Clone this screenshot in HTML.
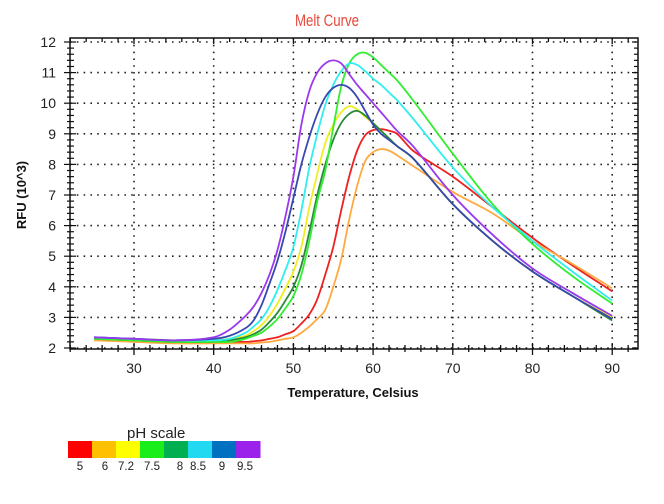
<!DOCTYPE html>
<html><head><meta charset="utf-8"><style>
body{margin:0;background:#fff;width:664px;height:504px;overflow:hidden}
svg{display:block}
text{font-family:"Liberation Sans",sans-serif}
</style></head><body>
<svg width="664" height="504">
<g id="chart"></g>
</svg>
<script>
const temps=[25,30,35,40,42,44,45,46,47,48,49,50,51,52,53,54,55,56,57,58,59,60,61,62,63,65,70,75,80,85,90];
const phLabels=["5","6","7.2","7.5","8","8.5","9","9.5"];
const xTicks=[30,40,50,60,70,80,90];
const yTicks=[2,3,4,5,6,7,8,9,10,11,12];
const sRed=[2.3,2.25,2.2,2.2,2.2,2.2,2.22,2.25,2.3,2.35,2.45,2.55,2.8,3.1,3.6,4.4,5.3,6.5,7.6,8.45,8.95,9.12,9.15,9.1,9.0,8.45,7.6,6.6,5.6,4.7,3.85];
const sOrange=[2.25,2.2,2.15,2.15,2.15,2.15,2.15,2.18,2.2,2.25,2.3,2.35,2.5,2.7,2.95,3.25,4.0,4.9,6.2,7.3,8.1,8.4,8.5,8.45,8.3,7.95,7.1,6.4,5.5,4.75,3.95];
const sYellow=[2.3,2.3,2.25,2.25,2.3,2.4,2.55,2.75,3.05,3.45,3.95,4.5,5.3,6.6,7.7,8.7,9.3,9.7,9.9,9.8,9.55,9.35,9.1,8.85,8.6,8.2,6.7,5.5,4.5,3.7,3.0];
const sGreen=[2.3,2.25,2.2,2.2,2.2,2.3,2.4,2.5,2.7,2.95,3.3,3.7,4.4,5.5,6.8,7.8,9.2,10.55,11.3,11.6,11.65,11.5,11.25,11.0,10.75,10.1,8.35,6.7,5.4,4.35,3.45];
const sDarkGreen=[2.3,2.25,2.2,2.2,2.25,2.35,2.45,2.6,2.85,3.15,3.55,4.0,4.7,5.8,7.0,8.0,8.8,9.35,9.65,9.75,9.6,9.35,9.1,8.85,8.6,8.2,6.7,5.5,4.5,3.7,2.9];
const sCyan=[2.35,2.3,2.25,2.25,2.3,2.5,2.7,2.95,3.35,3.9,4.55,5.3,6.5,7.9,9.0,9.95,10.6,11.05,11.3,11.25,11.05,10.8,10.6,10.35,10.1,9.5,7.9,6.6,5.5,4.5,3.55];
const sBlue=[2.35,2.3,2.25,2.3,2.4,2.65,2.9,3.4,4.1,4.85,5.8,6.9,8.0,8.9,9.65,10.2,10.5,10.6,10.5,10.2,9.75,9.3,9.0,8.8,8.6,8.2,6.7,5.5,4.5,3.7,2.95];
const sPurple=[2.35,2.3,2.25,2.35,2.6,3.05,3.35,3.8,4.4,5.2,6.3,7.6,9.3,10.4,11.0,11.3,11.4,11.3,10.95,10.6,10.3,10.0,9.7,9.4,9.1,8.6,7.0,5.7,4.6,3.8,3.05];

const NS="http://www.w3.org/2000/svg";
const g=document.getElementById('chart');
const L=70,R=638,T=38,B=349;
const X=v=>134+(v-30)*7.97;
const Y=v=>348-(v-2)*30.6;
function el(t,a,p){const e=document.createElementNS(NS,t);for(const k in a)e.setAttribute(k,a[k]);(p||g).appendChild(e);return e;}

let t=el('text',{x:327,y:26,'text-anchor':'middle','font-size':17,fill:'#e8483a',transform:'translate(327 0) scale(0.78 1) translate(-327 0)'});
t.textContent='Melt Curve';

xTicks.forEach(v=>{const l=el('line',{x1:X(v),x2:X(v),y1:T,y2:B,stroke:'#222','stroke-width':1.6,'stroke-dasharray':'1.6 5.2'});
});
yTicks.forEach(v=>{const l=el('line',{x1:L,x2:R,y1:Y(v),y2:Y(v),stroke:'#222','stroke-width':1.6,'stroke-dasharray':'1.6 5.2'});
});

let f=el('rect',{x:L,y:T,width:R-L,height:B-T,fill:'none',stroke:'#111','stroke-width':1.5});


for(let v=22;v<=93;v+=2){const maj=v%10===0;
 el('line',{x1:X(v),x2:X(v),y1:B-(maj?6:4),y2:B+(maj?6:3),stroke:'#111','stroke-width':1.3});
 el('line',{x1:X(v),x2:X(v),y1:T,y2:T+(maj?6:4),stroke:'#111','stroke-width':1.3});}
for(let v=2;v<=12.01;v+=0.2){const maj=Math.abs(v-Math.round(v))<0.01;
 el('line',{x1:L-(maj?6:3),x2:L+(maj?6:4),y1:Y(v),y2:Y(v),stroke:'#111','stroke-width':1.2});
 el('line',{x1:R-(maj?6:4),x2:R,y1:Y(v),y2:Y(v),stroke:'#111','stroke-width':1.2});}

xTicks.forEach(v=>{const e=el('text',{x:X(v),y:373,'text-anchor':'middle','font-size':14,fill:'#222'});
e.textContent=v;});
yTicks.forEach(v=>{const e=el('text',{x:56,y:Y(v)+5,'text-anchor':'end','font-size':14,fill:'#222'});
e.textContent=v;});
let xt=el('text',{x:353,y:397,'text-anchor':'middle','font-size':13,'font-weight':'bold',fill:'#111'});
xt.textContent='Temperature, Celsius';
let yt=el('text',{x:0,y:0,'text-anchor':'middle','font-size':13,'font-weight':'bold',fill:'#111',transform:'translate(26 195) rotate(-90)'});
yt.textContent='RFU (10^3)';

const series=[[sRed,'#ee2020','ph-5'],[sOrange,'#ffaa40','ph-6'],[sYellow,'#eeee20','ph-7.2'],[sDarkGreen,'#2a8a3a','ph-8'],[sGreen,'#30ee30','ph-7.5'],[sCyan,'#30eeee','ph-8.5'],[sBlue,'#3848b0','ph-9'],[sPurple,'#9a38ee','ph-9.5']];
// centripetal-ish Catmull-Rom using non-uniform tangents
function path(vals){
 const p=temps.map((x,i)=>[X(x),Y(vals[i])]);const n=p.length;
 const tan=p.map((q,i)=>{const a=p[Math.max(0,i-1)],b=p[Math.min(n-1,i+1)];return (b[1]-a[1])/(b[0]-a[0]);});
 let s='M'+p[0][0]+','+p[0][1];
 for(let i=0;i<n-1;i++){const h=(p[i+1][0]-p[i][0])/3;
  s+=' C'+(p[i][0]+h)+','+(p[i][1]+tan[i]*h)+' '+(p[i+1][0]-h)+','+(p[i+1][1]-tan[i+1]*h)+' '+p[i+1][0]+','+p[i+1][1];}
 return s;}
series.forEach(s=>{const e=el('path',{d:path(s[0]),fill:'none',stroke:s[1],'stroke-width':1.8});
});

const lc=['#ff0000','#ffc000','#ffff00','#1aee1a','#00b050','#21d9f0','#0070c0','#9b22ea'];
let lt=el('text',{x:127,y:438,'font-size':15,fill:'#222'});
lt.textContent='pH scale';
const lx=[68,92,116,140,164,188,212,236];
const labX=[80,105,126,152,180,198,222,245];
phLabels.forEach((lab,i)=>{const r=el('rect',{x:lx[i],y:441,width:24.5,height:17,fill:lc[i]});

const e=el('text',{x:labX[i],y:470,'font-size':11.5,fill:'#222','text-anchor':'middle'});
e.textContent=lab;});
</script>
</body></html>
